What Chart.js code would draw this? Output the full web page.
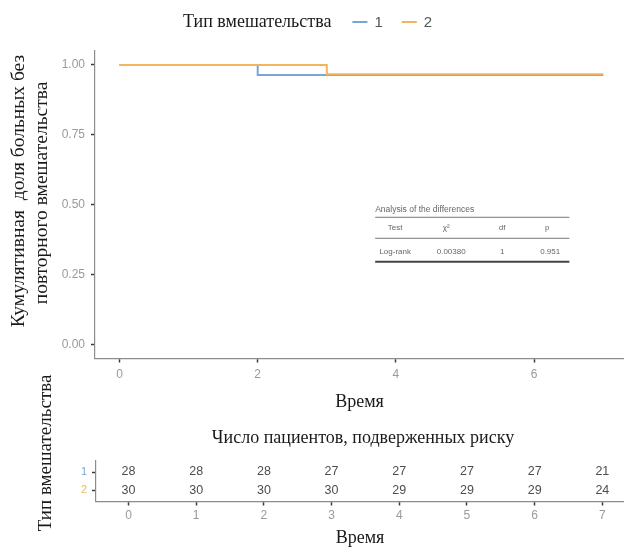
<!DOCTYPE html>
<html><head><meta charset="utf-8">
<script src="https://cdn.jsdelivr.net/npm/chart.js@4.4.1/dist/chart.umd.min.js"></script>
<style>
html,body{margin:0;padding:0;background:#fff;overflow:hidden}
#w{position:relative;width:624px;height:552px;background:#fff}
#c1{position:absolute;left:0;top:0}
#c2{position:absolute;left:0;top:420px}
#c3{position:absolute;left:0;top:360px}
</style></head><body>
<div id="w"><canvas id="c1" width="624" height="420"></canvas><canvas id="c2" width="624" height="132"></canvas><canvas id="c3" width="70" height="192"></canvas></div>
<script>
// ---- data ----
const groups = ['1', '2'];
const legendTitle = 'Тип вмешательства';
const times1 = [0, 2, 7];
const surv1 = [1, 0.964, 0.964];
const times2 = [0, 3, 7];
const surv2 = [1, 0.967, 0.967];
const survTicks = [0, 0.25, 0.5, 0.75, 1];
const timeTicks = [0, 2, 4, 6];
const riskTimes = [0, 1, 2, 3, 4, 5, 6, 7];
const risk1 = [28, 28, 28, 27, 27, 27, 27, 21];
const risk2 = [30, 30, 30, 30, 29, 29, 29, 24];
const yTitleLines = ['Кумулятивная  доля больных без', 'повторного вмешательства'];
const xTitle = 'Время';
const riskTitle = 'Число пациентов, подверженных риску';
const riskYTitle = 'Тип вмешательства';
const testCaption = 'Analysis of the differences';
const testHeaders = ['Test', 'χ²', 'df', 'p'];
const testRow = ['Log-rank', '0.00380', '1', '0.951'];

// ---- styles ----
const groupColors = ['#7aa3d8', '#f2b55b'];
const SERIF = '"Liberation Serif", "DejaVu Serif", serif';
const SANS = '"Liberation Sans", Arial, sans-serif';
const axisColor = '#8c8c8c';
const tickMarkColor = '#3a3a3a';
const tickLabelColor = '#9a9a9a';

const toPts = (xs, ys) => xs.map((x, i) => ({x: x, y: ys[i]}));

const rotText = (ctx, text, x, y, font) => {
  ctx.save();
  ctx.translate(x, y);
  ctx.rotate(-Math.PI / 2);
  ctx.font = font;
  ctx.fillStyle = '#1a1a1a';
  ctx.textAlign = 'center';
  ctx.textBaseline = 'middle';
  ctx.fillText(text, 0, 0);
  ctx.restore();
};

const topDecor = {
  id: 'topDecor',
  afterDraw(chart) {
    const ctx = chart.ctx;
    // y title
    rotText(ctx, yTitleLines[0], 19, 191, '19.5px ' + SERIF);
    rotText(ctx, yTitleLines[1], 42, 193, '19.5px ' + SERIF);
    // legend
    ctx.save();
    ctx.font = '18px ' + SERIF;
    ctx.textBaseline = 'middle';
    const tw = ctx.measureText(legendTitle).width;
    const ly = 22;
    let x = 183;
    ctx.fillStyle = '#1a1a1a';
    ctx.textAlign = 'left';
    ctx.fillText(legendTitle, x, ly);
    x += tw + 21;
    ctx.font = '15px ' + SANS;
    chart.data.datasets.forEach((ds) => {
      ctx.strokeStyle = ds.borderColor;
      ctx.lineWidth = 2;
      ctx.beginPath();
      ctx.moveTo(x, ly);
      ctx.lineTo(x + 15, ly);
      ctx.stroke();
      x += 27;
      ctx.fillStyle = '#555';
      ctx.fillText(ds.label, x - 5, ly + 1);
      x += ctx.measureText(ds.label).width + 14;
    });
    ctx.restore();
    // inset table
    const xs = chart.scales.x, ys = chart.scales.y;
    const x0 = xs.getPixelForValue(3.70);
    const x1 = xs.getPixelForValue(6.51);
    const y0 = ys.getPixelForValue(0.482);
    ctx.save();
    ctx.fillStyle = '#666';
    ctx.textBaseline = 'middle';
    ctx.font = '8.5px ' + SANS;
    ctx.textAlign = 'left';
    ctx.fillText(testCaption, x0, y0);
    ctx.font = '8px ' + SANS;
    const colOff = [20, 71, 127, 172];
    ctx.textAlign = 'center';
    testHeaders.forEach((h, i) => ctx.fillText(h, x0 + colOff[i], y0 + 18));
    testRow.forEach((h, i) => ctx.fillText(h, x0 + colOff[i] + (i === 1 ? 5 : i === 3 ? 3 : 0), y0 + 42));
    ctx.strokeStyle = '#777';
    ctx.lineWidth = 1;
    ctx.beginPath();
    ctx.moveTo(x0, y0 + 7.5); ctx.lineTo(x1, y0 + 7.5);
    ctx.moveTo(x0, y0 + 28.5); ctx.lineTo(x1, y0 + 28.5);
    ctx.stroke();
    ctx.strokeStyle = '#444';
    ctx.lineWidth = 2;
    ctx.beginPath();
    ctx.moveTo(x0, y0 + 52); ctx.lineTo(x1, y0 + 52);
    ctx.stroke();
    ctx.restore();
  }
};

new Chart(document.getElementById('c1'), {
  type: 'line',
  data: {
    datasets: [
      {label: groups[0], data: toPts(times1, surv1), borderColor: groupColors[0], borderWidth: 2, stepped: true, pointRadius: 0, fill: false, order: 1},
      {label: groups[1], data: toPts(times2, surv2), borderColor: groupColors[1], borderWidth: 2, stepped: true, pointRadius: 0, fill: false, order: 0}
    ]
  },
  options: {
    responsive: false,
    animation: false,
    events: [],
    layout: {padding: {top: 51, left: 0, right: 0, bottom: 0}},
    plugins: {legend: {display: false}, tooltip: {enabled: false}, title: {display: false}},
    scales: {
      x: {
        type: 'linear', min: -0.354, max: 7.3,
        afterBuildTicks: s => { s.ticks = timeTicks.map(v => ({value: v})); },
        afterFit: s => { s.height = 61.5; },
        border: {display: true, color: axisColor, width: 1.2},
        grid: {drawOnChartArea: false, drawTicks: true, tickLength: 4, tickColor: tickMarkColor, tickWidth: 1.5},
        ticks: {color: tickLabelColor, font: {family: SANS, size: 12}, padding: 5, maxRotation: 0, callback: v => String(v)},
        title: {display: true, text: xTitle, color: '#1a1a1a', font: {family: SERIF, size: 18}, padding: {top: 0, bottom: 7}}
      },
      y: {
        type: 'linear', min: -0.05, max: 1.05,
        afterBuildTicks: s => { s.ticks = survTicks.map(v => ({value: v})); },
        afterFit: s => { s.width = 95; },
        border: {display: true, color: axisColor, width: 1.2},
        grid: {drawOnChartArea: false, drawTicks: true, tickLength: 4, tickColor: tickMarkColor, tickWidth: 1.5},
        ticks: {color: tickLabelColor, font: {family: SANS, size: 12}, padding: 6, callback: v => v.toFixed(2)}
      }
    }
  },
  plugins: [topDecor]
});

const bottomDecor = {
  id: 'bottomDecor',
  afterDatasetsDraw(chart) {
    const ctx = chart.ctx;
    ctx.save();
    ctx.font = '12.5px ' + SANS;
    ctx.fillStyle = '#4d4d4d';
    ctx.textAlign = 'center';
    ctx.textBaseline = 'middle';
    chart.data.datasets.forEach((ds, di) => {
      const meta = chart.getDatasetMeta(di);
      meta.data.forEach((el, i) => {
        ctx.fillText(String(ds.data[i].n), el.x, el.y);
      });
    });
    ctx.restore();
  },
  afterDraw(chart) {
    const ctx = chart.ctx;
    const ca = chart.chartArea;
    ctx.save();
    ctx.font = '18px ' + SERIF;
    ctx.fillStyle = '#1a1a1a';
    ctx.textAlign = 'center';
    ctx.textBaseline = 'middle';
    ctx.fillText(riskTitle, (ca.left + ca.right) / 2 + 3, 18);
    ctx.restore();
  }
};

new Chart(document.getElementById('c2'), {
  type: 'scatter',
  data: {
    datasets: [
      {label: groups[0], data: riskTimes.map((t, i) => ({x: t, y: 1, n: risk1[i]})), pointRadius: 0, showLine: false},
      {label: groups[1], data: riskTimes.map((t, i) => ({x: t, y: 2, n: risk2[i]})), pointRadius: 0, showLine: false}
    ]
  },
  options: {
    responsive: false,
    animation: false,
    events: [],
    layout: {padding: {top: 41, left: 0, right: 0, bottom: 0}},
    plugins: {legend: {display: false}, tooltip: {enabled: false}},
    scales: {
      x: {
        type: 'linear', min: -0.48, max: 7.32,
        afterBuildTicks: s => { s.ticks = riskTimes.map(v => ({value: v})); },
        afterFit: s => { s.height = 50.5; },
        border: {display: true, color: axisColor, width: 1.2},
        grid: {drawOnChartArea: false, drawTicks: true, tickLength: 4, tickColor: tickMarkColor, tickWidth: 1.5},
        ticks: {color: tickLabelColor, font: {family: SANS, size: 12}, padding: 3, maxRotation: 0, callback: v => String(v)},
        title: {display: true, text: xTitle, color: '#1a1a1a', font: {family: SERIF, size: 18}, padding: {top: 0, bottom: 3}}
      },
      y: {
        type: 'linear', min: 0.4, max: 2.6, reverse: true,
        afterBuildTicks: s => { s.ticks = [1, 2].map(v => ({value: v})); },
        afterFit: s => { s.width = 96; },
        border: {display: true, color: axisColor, width: 1.2},
        grid: {drawOnChartArea: false, drawTicks: true, tickLength: 4, tickColor: tickMarkColor, tickWidth: 1.5},
        ticks: {color: c => groupColors[c.index], font: {family: SANS, size: 11}, padding: 5, callback: v => groups[v - 1]},
        title: {display: false}
      }
    }
  },
  plugins: [bottomDecor]
});

(function () {
  const ctx = document.getElementById('c3').getContext('2d');
  rotText(ctx, riskYTitle, 46, 93, '19px ' + SERIF);
})();
</script>
</body></html>
